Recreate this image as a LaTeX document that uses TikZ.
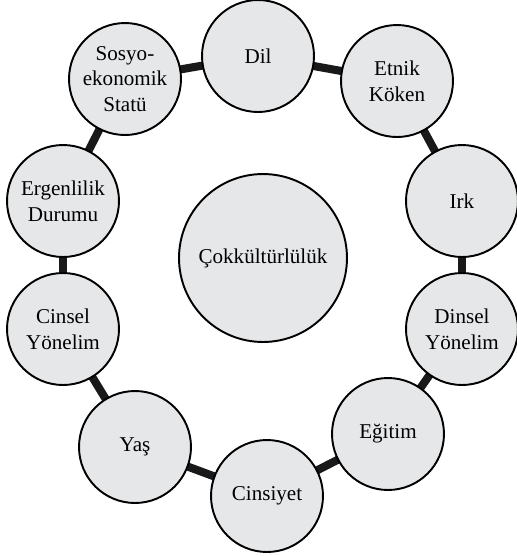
\documentclass[tikz,border=0pt]{standalone}
\usepackage{fontspec}
\setmainfont{Liberation Serif}
\usetikzlibrary{backgrounds}

\definecolor{circlegray}{RGB}{230,231,232}

\tikzset{
  topic/.style={circle,draw=black,line width=1.1pt,fill=circlegray,
    minimum size=2.24cm,inner sep=0pt,align=center,
    font=\fontsize{12}{14.7}\selectfont},
  core/.style={topic,minimum size=3.36cm},
  link/.style={line width=4.6pt,black!90}
}

\begin{document}
\begin{tikzpicture}[x=0.02cm,y=-0.02cm]
\useasboundingbox (0,0) rectangle (517,556);

\node[core]  (cok)  at (263,258) {Çokkültürlülük};

\node[topic] (dil)  at (258,56)  {Dil};
\node[topic] (etn)  at (397,81)  {Etnik\\Köken};
\node[topic] (irk)  at (462,201) {Irk};
\node[topic] (din)  at (462,329) {Dinsel\\Yönelim};
\node[topic] (egi)  at (388,434) {Eğitim};
\node[topic] (cns)  at (267,496) {Cinsiyet};
\node[topic] (yas)  at (135,447) {Yaş};
\node[topic] (cyo)  at (63,329)  {Cinsel\\Yönelim};
\node[topic] (erg)  at (63,201)  {Ergenlilik\\Durumu};
\node[topic] (sos)  at (125,79)  {Sosyo-\\ekonomik\\Statü};

%\draw[gray,step=20] (0,0) grid (517,556);
\begin{scope}[on background layer]
\foreach \a/\b in {dil/etn,etn/irk,irk/din,din/egi,egi/cns,
                   cns/yas,yas/cyo,cyo/erg,erg/sos,sos/dil}
  \draw[link] (\a.center) -- (\b.center);
\end{scope}
\end{tikzpicture}
\end{document}
